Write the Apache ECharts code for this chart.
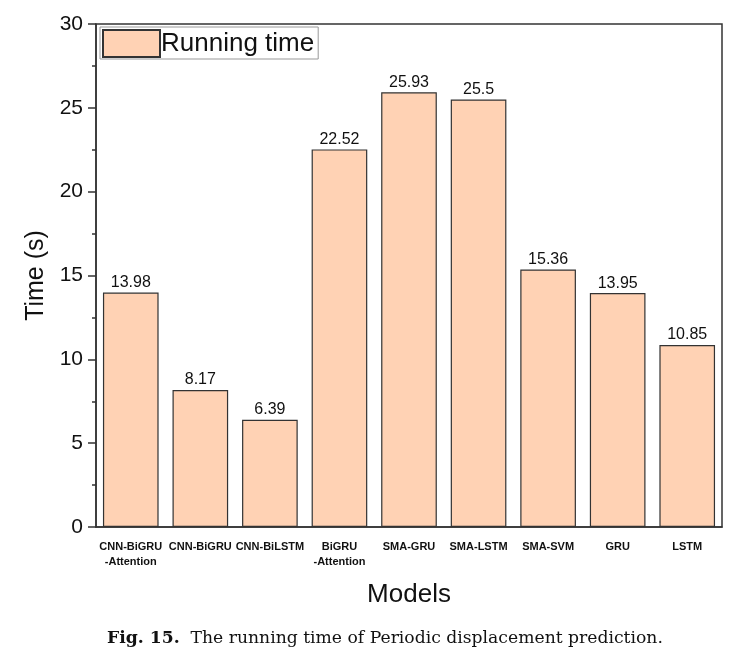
<!DOCTYPE html>
<html>
<head>
<meta charset="utf-8">
<script src="https://cdn.jsdelivr.net/npm/echarts@6/dist/echarts.min.js"></script>
<style>
html,body{margin:0;padding:0;background:#fff;}
#c{width:739px;height:659px;}
</style>
</head>
<body>
<div id="c"></div>
<script>
const categories = ['CNN-BiGRU\n-Attention','CNN-BiGRU','CNN-BiLSTM','BiGRU\n-Attention','SMA-GRU','SMA-LSTM','SMA-SVM','GRU','LSTM'];
const runningTime = [13.98, 8.17, 6.39, 22.52, 25.93, 25.5, 15.36, 13.95, 10.85];
const seriesName = 'Running time';
const yAxisName = 'Time (s)';
const xAxisName = 'Models';
const captionBold = 'Fig. 15.';
const captionText = 'The running time of Periodic displacement prediction.';

const chart = echarts.init(document.getElementById('c'), null, {renderer:'canvas'});
const font = '"Liberation Sans", Arial, sans-serif';
chart.setOption({
  animation:false,
  backgroundColor:'#fff',
  textStyle:{fontFamily:font},
  grid:{left:96, right:17, top:24, bottom:132, show:true, borderColor:'#333', borderWidth:1.5, backgroundColor:'transparent'},
  legend:{
    left:100, top:27, data:[seriesName], itemWidth:57, itemHeight:27, itemGap:4,
    padding:[2,4,1,2], borderColor:'#999', borderWidth:1,
    textStyle:{fontSize:26, color:'#111', fontFamily:font, padding:[0,0,0,-4]},
    icon:'rect'
  },
  xAxis:[{
    type:'category', data:categories, position:'bottom',
    axisLine:{lineStyle:{color:'#333', width:1.5}},
    axisTick:{alignWithLabel:true, length:8, lineStyle:{color:'#333', width:1.5}},
    axisLabel:{interval:0, fontSize:11, fontWeight:'bold', color:'#111', fontFamily:font, margin:12, lineHeight:15},
    name:xAxisName, nameLocation:'middle', nameGap:55,
    nameTextStyle:{fontSize:26, color:'#111', fontFamily:font}
  },{
    type:'category', data:categories, position:'bottom', gridIndex:0,
    axisLine:{show:false},
    axisTick:{length:4, lineStyle:{color:'#333', width:1.5}},
    axisLabel:{show:false}
  }],
  yAxis:{
    type:'value', min:0, max:30, interval:5,
    splitLine:{show:false},
    axisLine:{show:true, lineStyle:{color:'#333', width:1.5}},
    axisTick:{show:true, length:8, lineStyle:{color:'#333', width:1.5}},
    minorTick:{show:true, splitNumber:2, length:4, lineStyle:{color:'#333', width:1.5}},
    axisLabel:{fontSize:21, color:'#111', fontFamily:font, margin:13},
    name:yAxisName, nameLocation:'middle', nameGap:45, nameRotate:90,
    nameTextStyle:{fontSize:25, color:'#111', fontFamily:font}
  },
  series:[{
    name:seriesName, type:'bar', data:runningTime, barWidth:'80%',
    itemStyle:{color:'#FFD2B4', borderColor:'#333', borderWidth:1.2},
    label:{show:true, position:'top', fontSize:16, color:'#111', fontFamily:font, distance:2}
  }],
  graphic:[{
    type:'text', left:107, top:630,
    style:{
      text:'{b|'+captionBold+'}  '+captionText,
      font:'17.2px "DejaVu Serif", serif', fill:'#111',
      rich:{b:{fontWeight:'bold', fontSize:17.2, fontFamily:'"DejaVu Serif", serif', fill:'#111'}}
    }
  }]
});
</script>
</body>
</html>
